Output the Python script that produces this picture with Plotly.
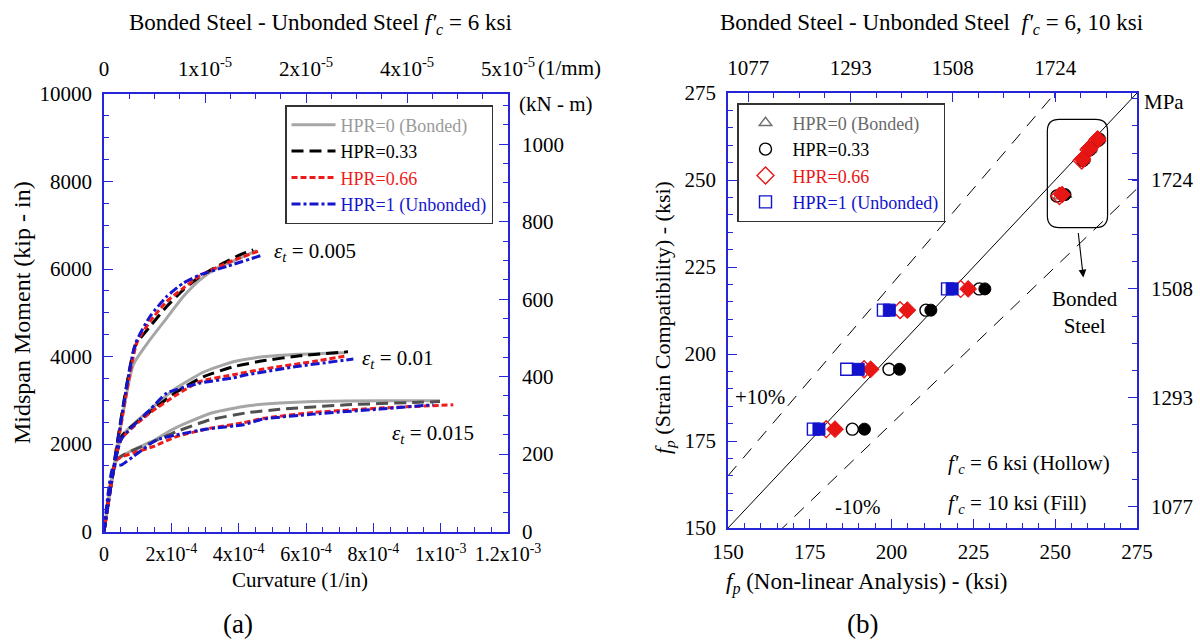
import plotly.graph_objects as go

W, H = 1200, 642
FONT = "Liberation Serif"
AXC = "#2626d9"

# ---------------- (a) Moment-curvature data (curvature 1/in, moment kip-in) ----------------
# eps_t = 0.005
e005_hpr0_c = [0, 0.870e-4, 1.366e-4, 1.862e-4, 2.355e-4, 2.851e-4, 3.347e-4, 4.039e-4, 4.535e-4]
e005_hpr0_m = [0, 3810, 4383, 4878, 5371, 5753, 6021, 6249, 6423]
e005_hpr033_c = [0, 0.921e-4, 1.366e-4, 1.862e-4, 2.355e-4, 2.851e-4, 3.543e-4, 4.039e-4, 4.434e-4]
e005_hpr033_m = [0, 4229, 4686, 5143, 5525, 5829, 6135, 6325, 6439]
e005_hpr066_c = [0, 0.971e-4, 1.366e-4, 1.862e-4, 2.355e-4, 2.851e-4, 3.643e-4, 4.633e-4]
e005_hpr066_m = [0, 4306, 4800, 5257, 5563, 5845, 6135, 6423]
e005_hpr1_c = [0, 0.921e-4, 1.366e-4, 1.862e-4, 2.355e-4, 2.851e-4, 3.643e-4, 4.731e-4]
e005_hpr1_m = [0, 4267, 4914, 5371, 5678, 5867, 6057, 6325]
# eps_t = 0.01
e01_hpr0_c = [0, 0.526e-4, 1.366e-4, 2.159e-4, 2.949e-4, 3.840e-4, 4.722e-4, 5.821e-4, 7.158e-4]
e01_hpr0_m = [0, 2171, 2782, 3284, 3640, 3880, 3993, 4050, 4085]
e01_hpr033_c = [0, 0.526e-4, 1.366e-4, 2.159e-4, 2.949e-4, 3.840e-4, 4.722e-4, 5.821e-4, 7.247e-4]
e01_hpr033_m = [0, 2171, 2736, 3193, 3536, 3765, 3902, 4016, 4107]
e01_hpr066_c = [0, 0.505e-4, 1.366e-4, 2.159e-4, 2.851e-4, 3.840e-4, 4.731e-4, 6.216e-4, 7.208e-4]
e01_hpr066_m = [0, 2096, 2713, 3125, 3429, 3582, 3712, 3886, 4016]
e01_hpr1_c = [0, 0.505e-4, 1.366e-4, 1.862e-4, 2.851e-4, 3.840e-4, 4.238e-4, 5.723e-4, 7.406e-4]
e01_hpr1_m = [0, 2096, 2782, 3163, 3392, 3513, 3582, 3771, 3941]
# eps_t = 0.015
e015_hpr0_c = [0, 0.377e-4, 0.870e-4, 1.515e-4, 2.014e-4, 2.507e-4, 3.246e-4, 4.238e-4, 5.227e-4, 6.216e-4, 8.197e-4, 9.979e-4]
e015_hpr0_m = [0, 1639, 1867, 2096, 2325, 2500, 2720, 2870, 2935, 2971, 2987, 2987]
e015_hpr033_c = [0, 0.377e-4, 1.366e-4, 2.159e-4, 3.148e-4, 4.238e-4, 5.227e-4, 7.208e-4, 9.188e-4, 9.979e-4]
e015_hpr033_m = [0, 1639, 2021, 2286, 2553, 2713, 2793, 2896, 2949, 2971]
e015_hpr066_c = [0, 0.377e-4, 0.870e-4, 1.464e-4, 2.159e-4, 3.148e-4, 4.137e-4, 4.731e-4, 6.216e-4, 8.197e-4, 10.374e-4]
e015_hpr066_m = [0, 1639, 1792, 1943, 2171, 2359, 2485, 2587, 2720, 2821, 2896]
e015_hpr1_c = [0, 0.276e-4, 0.526e-4, 0.870e-4, 1.565e-4, 2.159e-4, 3.059e-4, 4.137e-4, 4.731e-4, 6.216e-4, 8.197e-4, 9.780e-4]
e015_hpr1_m = [0, 1486, 1525, 1714, 2096, 2210, 2341, 2439, 2569, 2683, 2798, 2896]

left_bottom_tickvals = [0, 2e-4, 4e-4, 6e-4, 8e-4, 1e-3, 1.2e-3]
left_bottom_ticktext = ["0", "2x10<sup>-4</sup>", "4x10<sup>-4</sup>", "6x10<sup>-4</sup>",
                        "8x10<sup>-4</sup>", "1x10<sup>-3</sup>", "1.2x10<sup>-3</sup>"]
left_top_tickvals = [0, 3e-4, 6e-4, 9e-4, 1.2e-3]
left_top_ticktext = ["0", "1x10<sup>-5</sup>", "2x10<sup>-5</sup>", "4x10<sup>-5</sup>", "5x10<sup>-5</sup>"]
kNm_tickvals = [0, 200, 400, 600, 800, 1000]

# ---------------- (b) Stress comparison data (ksi) ----------------
row_fp_sc = [178.4, 195.6, 212.6, 218.7]
hpr033_nl_6 = [188.0, 199.2, 210.5, 226.8]
hpr033_nl_10 = [191.7, 202.4, 212.0, 228.5]
hpr066_nl_6 = [180.0, 191.6, 202.6, 221.1]
hpr066_nl_10 = [182.7, 193.6, 204.8, 223.4]
hpr1_nl_6 = [176.1, 186.3, 197.5, 217.1]
hpr1_nl_10 = [177.8, 189.8, 199.3, 218.5]
# bonded steel cluster
bond_sc_6 = [245.4, 255.6, 258.7, 261.4]
bond_sc_10 = [245.8, 256.0, 259.1, 261.8]
bond_tri_nl_6 = [251.4, 258.6, 260.7, 263.3]
bond_tri_nl_10 = [253.2, 258.9, 261.0, 263.6]
bond_cir_nl_6 = [250.5, 258.5, 260.6, 263.2]
bond_cir_nl_10 = [253.0, 258.8, 260.9, 263.5]
bond_dia_nl_6 = [251.3, 258.1, 260.2, 262.8]
bond_dia_nl_10 = [252.1, 258.3, 260.4, 263.0]

ref_x = [150, 275]
ratio_lines = [1.0, 1.1, 0.9]
mpa_tickvals = [1077, 1293, 1508, 1724]
KSI_TO_MPA = 6.895


def px(x):
    return x / W


def py(y):
    return 1 - y / H


fig = go.Figure()

styles = [
    ("HPR=0 (Bonded)", "#a6a6a6", "#9a9a9a", "solid", [(e005_hpr0_c, e005_hpr0_m), (e01_hpr0_c, e01_hpr0_m), (e015_hpr0_c, e015_hpr0_m)]),
    ("HPR=0.33", "#000000", "#000000", "12px,6px", [(e005_hpr033_c, e005_hpr033_m), (e01_hpr033_c, e01_hpr033_m), (e015_hpr033_c, e015_hpr033_m)]),
    ("HPR=0.66", "#ee1b1b", "#ee1b1b", "6px,3px", [(e005_hpr066_c, e005_hpr066_m), (e01_hpr066_c, e01_hpr066_m), (e015_hpr066_c, e015_hpr066_m)]),
    ("HPR=1 (Unbonded)", "#1515cc", "#1515cc", "9px,3px,3px,3px", [(e005_hpr1_c, e005_hpr1_m), (e01_hpr1_c, e01_hpr1_m), (e015_hpr1_c, e015_hpr1_m)]),
]
for name, col, tcol, dash, groups in styles:
    for gi, (cx, my) in enumerate(groups):
        c = col
        if name == "HPR=0.33" and gi == 2:
            c = "#505050"
        fig.add_trace(go.Scatter(
            x=cx, y=my, mode="lines", xaxis="x", yaxis="y",
            line=dict(color=c, width=3, dash=dash, shape="spline", smoothing=0.5),
            name=f"<span style='color:{tcol}'>{name}</span>",
            showlegend=(gi == 0), legend="legend",
        ))

# dummy traces to activate overlay axes
fig.add_trace(go.Scatter(x=[None], y=[None], xaxis="x2", yaxis="y2", showlegend=False, hoverinfo="skip"))
fig.add_trace(go.Scatter(x=[None], y=[None], xaxis="x4", yaxis="y4", showlegend=False, hoverinfo="skip"))

# reference lines (b)
for r in ratio_lines:
    fig.add_trace(go.Scatter(
        x=ref_x, y=[v * r for v in ref_x], mode="lines", xaxis="x3", yaxis="y3",
        line=dict(color="black", width=1, dash="solid" if r == 1.0 else "13px,10px"),
        showlegend=False, hoverinfo="skip"))

GRAY_M = "#707070"
marker_sets = [
    ("HPR=0 (Bonded)", "triangle-up", GRAY_M, bond_tri_nl_6, bond_tri_nl_10, bond_sc_6, bond_sc_10, 11, "#6a6a6a"),
    ("HPR=0.33", "circle", "#000000", hpr033_nl_6, hpr033_nl_10, row_fp_sc, row_fp_sc, 12, "#000000"),
    ("HPR=0.33b", "circle", "#000000", bond_cir_nl_6, bond_cir_nl_10, bond_sc_6, bond_sc_10, 12, None),
    ("HPR=0.66", "diamond", "#e81515", hpr066_nl_6, hpr066_nl_10, row_fp_sc, row_fp_sc, 13, "#e81515"),
    ("HPR=0.66b", "diamond", "#e81515", bond_dia_nl_6, bond_dia_nl_10, bond_sc_6, bond_sc_10, 13, None),
    ("HPR=1 (Unbonded)", "square", "#1212cc", hpr1_nl_6, hpr1_nl_10, row_fp_sc, row_fp_sc, 12, "#1212cc"),
]
for name, sym, col, x6, x10, y6, y10, size, tcol in marker_sets:
    fig.add_trace(go.Scatter(
        x=x6, y=y6, mode="markers", xaxis="x3", yaxis="y3",
        marker=dict(symbol=sym + "-open", color=col, size=size, line=dict(width=1.4, color=col)),
        name=f"<span style='color:{tcol}'>{name}</span>" if tcol else name,
        showlegend=tcol is not None, legend="legend2"))
    fig.add_trace(go.Scatter(
        x=x10, y=y10, mode="markers", xaxis="x3", yaxis="y3",
        marker=dict(symbol=sym, color=col, size=size, line=dict(width=1, color=col)),
        showlegend=False))

tickfont = dict(family=FONT, size=21, color="black")


def axis(**kw):
    d = dict(showline=True, linecolor=AXC, linewidth=1.5, ticks="inside", tickcolor=AXC,
             tickwidth=1.3, ticklen=9, showgrid=False, zeroline=False, tickfont=tickfont,
             tickangle=0, fixedrange=True, automargin=False)
    d.update(kw)
    return d


def minor(dt, t0=0):
    return dict(ticks="inside", ticklen=5, tickcolor=AXC, tickwidth=1.3, dtick=dt, tick0=t0, showgrid=False)


ldx = [px(104), px(508)]
ldy = [py(531.5), py(94)]
rdx = [px(728), px(1137)]
rdy = [py(528), py(93)]

fig.update_layout(
    width=W, height=H, margin=dict(l=0, r=0, t=0, b=0, autoexpand=False),
    paper_bgcolor="white", plot_bgcolor="white",
    font=dict(family=FONT, size=20, color="black"),
    xaxis=axis(domain=ldx, anchor="y", range=[0, 1.2e-3], tickmode="array",
               tickvals=left_bottom_tickvals, ticktext=left_bottom_ticktext, minor=minor(5e-5),
               ticklabelstandoff=4, tickfont=dict(family=FONT, size=20, color="black")),
    yaxis=axis(domain=ldy, anchor="x", range=[0, 10000], tickmode="linear", dtick=2000, tick0=0,
               tickformat="d", minor=minor(500), ticklabelstandoff=6),
    xaxis2=axis(overlaying="x", side="top", anchor="y", range=[0, 1.2e-3], tickmode="array",
                tickvals=left_top_tickvals, ticktext=left_top_ticktext, minor=minor(0.75e-4),
                ticklabelstandoff=8),
    yaxis2=axis(overlaying="y", side="right", anchor="x", range=[0, 10000 * 0.11298], tickmode="array",
                tickvals=kNm_tickvals, minor=minor(50), ticklabelstandoff=8),
    xaxis3=axis(domain=rdx, anchor="y3", range=[150, 275], tickmode="linear", dtick=25, tick0=150,
                minor=minor(5, 150), ticklabelstandoff=4),
    yaxis3=axis(domain=rdy, anchor="x3", range=[150, 275], tickmode="linear", dtick=25, tick0=150,
                minor=minor(5, 150), ticklabelstandoff=6),
    xaxis4=axis(overlaying="x3", side="top", anchor="y3", range=[150 * KSI_TO_MPA, 275 * KSI_TO_MPA],
                tickmode="array", tickvals=mpa_tickvals, minor=minor(53.85, 1077), ticklabelstandoff=8),
    yaxis4=axis(overlaying="y3", side="right", anchor="x3", range=[150 * KSI_TO_MPA, 275 * KSI_TO_MPA],
                tickmode="array", tickvals=mpa_tickvals, minor=minor(53.85, 1077), ticklabelstandoff=8),
    legend=dict(x=px(285), y=py(105), xanchor="left", yanchor="top", bgcolor="white",
                bordercolor="#333333", borderwidth=1.5, font=dict(family=FONT, size=18),
                itemclick=False, tracegroupgap=0, itemwidth=44),
    legend2=dict(x=px(737), y=py(103), xanchor="left", yanchor="top", bgcolor="white",
                 bordercolor="#333333", borderwidth=1.5, font=dict(family=FONT, size=18),
                 itemclick=False, tracegroupgap=0, itemwidth=44),
    showlegend=True,
)

# rounded box around bonded steel cluster
bx0, bx1, by0, by1, rx, ry = 247.6, 266.0, 236.3, 267.4, 3.6, 3.4
path = (f"M {bx0+rx},{by1} L {bx1-rx},{by1} Q {bx1},{by1} {bx1},{by1-ry} "
        f"L {bx1},{by0+ry} Q {bx1},{by0} {bx1-rx},{by0} L {bx0+rx},{by0} "
        f"Q {bx0},{by0} {bx0},{by0+ry} L {bx0},{by1-ry} Q {bx0},{by1} {bx0+rx},{by1} Z")
fig.add_shape(type="path", path=path, xref="x3", yref="y3", line=dict(color="black", width=1.2))

ann = []


def A(text, x, y, size=20, xanchor="center", yanchor="middle", angle=0, **kw):
    d = dict(text=text, x=px(x), y=py(y), xref="paper", yref="paper", showarrow=False,
             xanchor=xanchor, yanchor=yanchor, textangle=angle,
             font=dict(family=FONT, size=size, color="black"))
    d.update(kw)
    ann.append(d)


A("Bonded Steel - Unbonded Steel <i>f'</i><sub><i>c</i></sub> = 6 ksi", 320, 24, size=23)
A("Bonded Steel - Unbonded Steel  <i>f'</i><sub><i>c</i></sub> = 6, 10 ksi", 932, 24, size=23)
A("(1/mm)", 536, 68, size=21, xanchor="left")
A("(kN - m)", 517, 104, size=21, xanchor="left")
A("MPa", 1142, 102, size=21, xanchor="left")
A("Midspan Moment (kip - in)", 22, 313, size=24, angle=-90)
A("<i>f</i><sub><i>p</i></sub> (Strain Compatibility) - (ksi)", 664, 318, size=22, angle=-90)
A("Curvature (1/in)", 300, 580, size=21)
A("<i>f</i><sub><i>p</i></sub> (Non-linear Analysis) - (ksi)", 866, 583, size=23)
A("(a)", 238, 624, size=27)
A("(b)", 862, 624, size=27)
A("<i>ε</i><sub><i>t</i></sub> = 0.005", 272, 252, size=21, xanchor="left")
A("<i>ε</i><sub><i>t</i></sub> = 0.01", 360, 359, size=21, xanchor="left")
A("<i>ε</i><sub><i>t</i></sub> = 0.015", 390, 434, size=21, xanchor="left")
A("+10%", 760, 397, size=21)
A("-10%", 858, 507, size=21)
A("<i>f'</i><sub><i>c</i></sub> = 6 ksi (Hollow)", 946, 464, size=21, xanchor="left")
A("<i>f'</i><sub><i>c</i></sub> = 10 ksi (Fill)", 946, 504, size=21, xanchor="left")
A("Bonded<br>Steel", 1085, 312, size=21)

ann.append(dict(text="", x=258.6, y=222.0, ax=257.0, ay=235.2, xref="x3", yref="y3",
                axref="x3", ayref="y3", showarrow=True, arrowhead=2, arrowsize=1.4,
                arrowwidth=1.1, arrowcolor="black"))
fig.update_layout(annotations=ann)

fig.write_html("out.html")
